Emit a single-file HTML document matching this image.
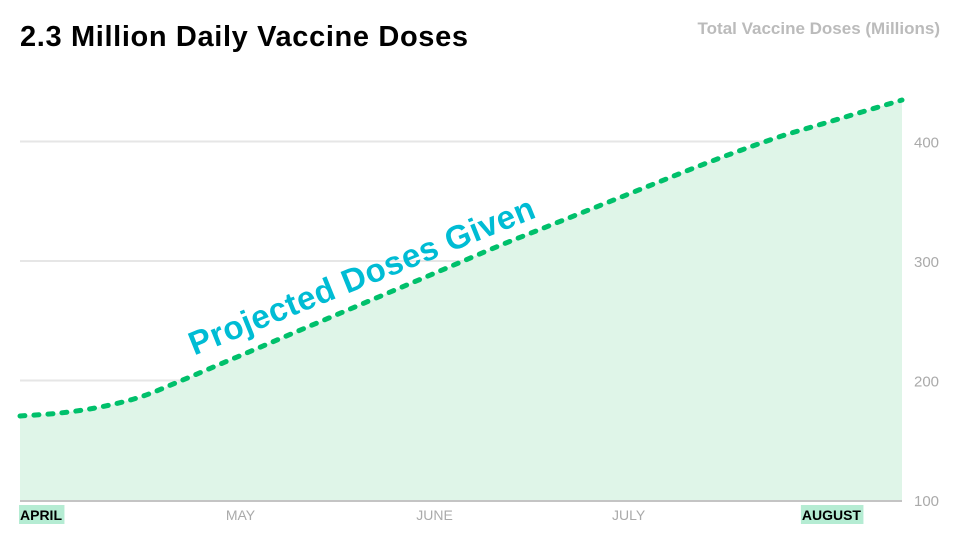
<!DOCTYPE html>
<html><head><meta charset="utf-8"><style>
body{margin:0;background:#fff;font-family:"Liberation Sans",sans-serif}
#wrap{position:relative;width:960px;height:540px;overflow:hidden}
</style></head><body>
<div id="wrap">
<svg id="chart" width="960" height="540">
  <text x="20" y="46" font-size="29" font-weight="bold" fill="#000" textLength="448">2.3 Million Daily Vaccine Doses</text>
  <text x="940" y="34" font-size="17" font-weight="bold" fill="#bbb" text-anchor="end">Total Vaccine Doses (Millions)</text>
  <g id="grid"></g>
  <g id="plot"></g>
  <g id="axes"></g>
</svg>
</div>
<script>
const values=[170.3,172.8,177.8,186.2,199.6,213.8,228,242.3,256.5,270.7,284.9,299.2,313.4,326.8,340.2,353.6,367,380.3,392.9,404.6,414.6,424.7,434.7];
const yTicks=[100,200,300,400];
const monthLabels=["APRIL","MAY","JUNE","JULY","AUGUST"];
const monthPos=[0,0.25,0.47,0.69,0.92];
const ns="http://www.w3.org/2000/svg";
const X0=20,X1=902,Y0=500;
const xs=i=>X0+(X1-X0)*i/(values.length-1);
const ys=v=>Y0-(v-100)*1.195;
function mk(t,a,p){const e=document.createElementNS(ns,t);for(const k in a)e.setAttribute(k,a[k]);(p||document.getElementById('chart')).appendChild(e);return e;}
const grid=document.getElementById('grid'),plot=document.getElementById('plot'),axes=document.getElementById('axes');
yTicks.forEach(v=>{
  if(v>100){const l=mk('line',{x1:X0,x2:X1,y1:ys(v),y2:ys(v),stroke:'#e6e6e6','stroke-width':2},grid);
  
  }
  const t=mk('text',{x:914,y:ys(v)+6,'font-size':15,fill:'#aaa'},axes);t.textContent=v;
  
  
});
// Catmull-Rom smooth path
function path(){const P=values.map((v,i)=>[xs(i),ys(v)]);let d='M'+P[0][0]+','+P[0][1];
  for(let i=0;i<P.length-1;i++){const p0=P[Math.max(0,i-1)],p1=P[i],p2=P[i+1],p3=P[Math.min(P.length-1,i+2)];
    const c1=[p1[0]+(p2[0]-p0[0])/6,p1[1]+(p2[1]-p0[1])/6],c2=[p2[0]-(p3[0]-p1[0])/6,p2[1]-(p3[1]-p1[1])/6];
    d+=' C'+c1[0]+','+c1[1]+' '+c2[0]+','+c2[1]+' '+p2[0]+','+p2[1];}
  return d;}
const pd=path();
const area=mk('path',{d:pd+' L'+X1+','+Y0+' L'+X0+','+Y0+' Z',fill:'#dff5e8'},plot);


const line=mk('path',{d:pd,fill:'none',stroke:'#00c06b','stroke-width':5,'stroke-dasharray':'5 9','stroke-linecap':'round'},plot);


const base=mk('line',{x1:X0,x2:X1,y1:Y0+1,y2:Y0+1,stroke:'#c4c4c4','stroke-width':2},axes);


monthLabels.forEach((m,i)=>{
  const hl=(i===0||i===monthLabels.length-1);
  const cx=X0+(X1-X0)*monthPos[i];
  const t=mk('text',{x:cx,y:520,'font-size':14,fill:hl?'#000':'#aaa','font-weight':hl?'bold':'normal','text-anchor':i===0?'start':'middle'},axes);
  t.textContent=m;
  
  
  if(hl){const b=t.getBBox();const r=mk('rect',{x:b.x-1,y:505,width:b.width+3,height:19,fill:'#b5ecd3'},axes);axes.insertBefore(r,t);
    
    }
});
const lab=mk('text',{x:362,y:287,'font-size':33,'font-weight':'bold',fill:'#00bcd4','text-anchor':'middle',textLength:370,transform:'rotate(-22 362 277)'},plot);
lab.textContent='Projected Doses Given';


</script>
</body></html>
